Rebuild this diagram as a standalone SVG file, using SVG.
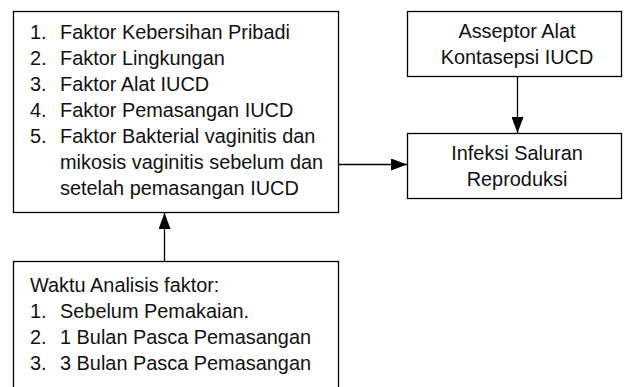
<svg xmlns="http://www.w3.org/2000/svg" width="627" height="387" viewBox="0 0 627 387">
<defs>
<style>
.box{fill:#fff;stroke:#000;stroke-width:1.3}
.t{font-family:"Liberation Sans",Arial,sans-serif;font-size:19.9px;fill:#111}
.c{text-anchor:middle}
.ln{stroke:#000;stroke-width:1.3;fill:none}
</style>
<marker id="ah" markerWidth="16" markerHeight="12" refX="16" refY="6" orient="auto" markerUnits="userSpaceOnUse">
<path d="M0,0 L16,6 L0,12 Z" fill="#000"/>
</marker>
</defs>
<rect width="627" height="387" fill="#fff"/>
<g id="faktor">
<rect class="box" x="13.5" y="11.5" width="325" height="201"/>
<text class="t" x="30" y="39">1.</text><text class="t" x="60" y="39">Faktor Kebersihan Pribadi</text>
<text class="t" x="30" y="65">2.</text><text class="t" x="60" y="65">Faktor Lingkungan</text>
<text class="t" x="30" y="91">3.</text><text class="t" x="60" y="91">Faktor Alat IUCD</text>
<text class="t" x="30" y="117">4.</text><text class="t" x="60" y="117">Faktor Pemasangan IUCD</text>
<text class="t" x="30" y="143">5.</text><text class="t" x="60" y="143">Faktor Bakterial vaginitis dan</text>
<text class="t" x="60" y="169">mikosis vaginitis sebelum dan</text>
<text class="t" x="60" y="195">setelah pemasangan IUCD</text>
</g>
<g id="asseptor">
<rect class="box" x="407.5" y="11.5" width="214" height="65"/>
<text class="t c" x="517" y="38">Asseptor Alat</text>
<text class="t c" x="517" y="64">Kontasepsi IUCD</text>
</g>
<g id="infeksi">
<rect class="box" x="407.5" y="133.5" width="214" height="65"/>
<text class="t c" x="517" y="160">Infeksi Saluran</text>
<text class="t c" x="517" y="186">Reproduksi</text>
</g>
<g id="waktu">
<rect class="box" x="13.5" y="261.5" width="325" height="140"/>
<text class="t" x="30" y="292">Waktu Analisis faktor:</text>
<text class="t" x="30" y="318">1.</text><text class="t" x="60" y="318">Sebelum Pemakaian.</text>
<text class="t" x="30" y="344">2.</text><text class="t" x="60" y="344">1 Bulan Pasca Pemasangan</text>
<text class="t" x="30" y="370">3.</text><text class="t" x="60" y="370">3 Bulan Pasca Pemasangan</text>
</g>
<g id="connectors">
<line class="ln" x1="338.5" y1="164.5" x2="407" y2="164.5" marker-end="url(#ah)"/>
<line class="ln" x1="517.5" y1="77" x2="517.5" y2="133" marker-end="url(#ah)"/>
<line class="ln" x1="164.5" y1="261" x2="164.5" y2="213" marker-end="url(#ah)"/>
</g>
</svg>
